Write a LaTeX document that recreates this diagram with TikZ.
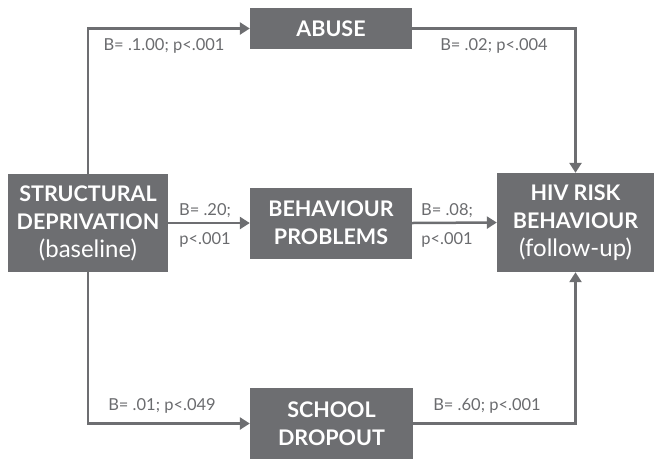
\documentclass[tikz,border=0pt]{standalone}
\usepackage{fontspec}
\setmainfont{Lato}
\usetikzlibrary{arrows.meta}
\definecolor{boxgray}{HTML}{6D6E71}
\definecolor{labgray}{HTML}{6A6B6E}

\begin{document}
\begin{tikzpicture}[x=1pt, y=-1pt,
	box/.style={fill=boxgray, text=white, inner sep=0pt, align=center,
		font=\fontsize{21.5}{28}\selectfont\bfseries},
	path/.style={draw=boxgray, line width=2.5pt, -{Triangle[length=10pt, width=12pt]}},
	lab/.style={text=labgray, inner sep=0pt, font=\fontsize{16.5}{18}\selectfont}]
	\def\lowline{\fontsize{24}{28}\selectfont\mdseries}
	\useasboundingbox (0,0) rectangle (656,459);

	\node[box, minimum width=160, minimum height=98] (sd) at (88,223)
		{STRUCTURAL\\DEPRIVATION\\{\lowline (baseline)}};
	\node[box, minimum width=162, minimum height=41] (abuse) at (331,28.5) {ABUSE};
	\node[box, minimum width=162, minimum height=71] (beh) at (331,223) {BEHAVIOUR\\PROBLEMS};
	\node[box, minimum width=163, minimum height=71] (school) at (331.5,423.5) {SCHOOL\\DROPOUT};
	\node[box, minimum width=157, minimum height=99] (hiv) at (575.5,222.5)
		{HIV RISK\\BEHAVIOUR\\{\lowline (follow-up)}};

	\draw[path]	(sd.north) |- (abuse.west);
	\draw[path]	(abuse.east) -| (hiv.north);
	\draw[path]	(sd.east) -- (beh.west);
	\draw[path]	(beh.east) -- (hiv.west);
	\draw[path]	(sd.south) |- (school.west);
	\draw[path]	(school.east) -| (hiv.south);

	\node[lab] (l1) at (164,46) {B= .1.00; p<.001};
	\node[lab] (l2) at (494,46) {B= .02; p<.004};
	\node[lab] (l3) at (205,211) {B= .20;};
	\node[lab] (l4) at (205,240) {p<.001};
	\node[lab] (l5) at (447,211) {B= .08;};
	\node[lab] (l6) at (447,240) {p<.001};
	\node[lab] (l7) at (162,406) {B= .01; p<.049};
	\node[lab] (l8) at (487,406) {B= .60; p<.001};
\end{tikzpicture}
\end{document}
